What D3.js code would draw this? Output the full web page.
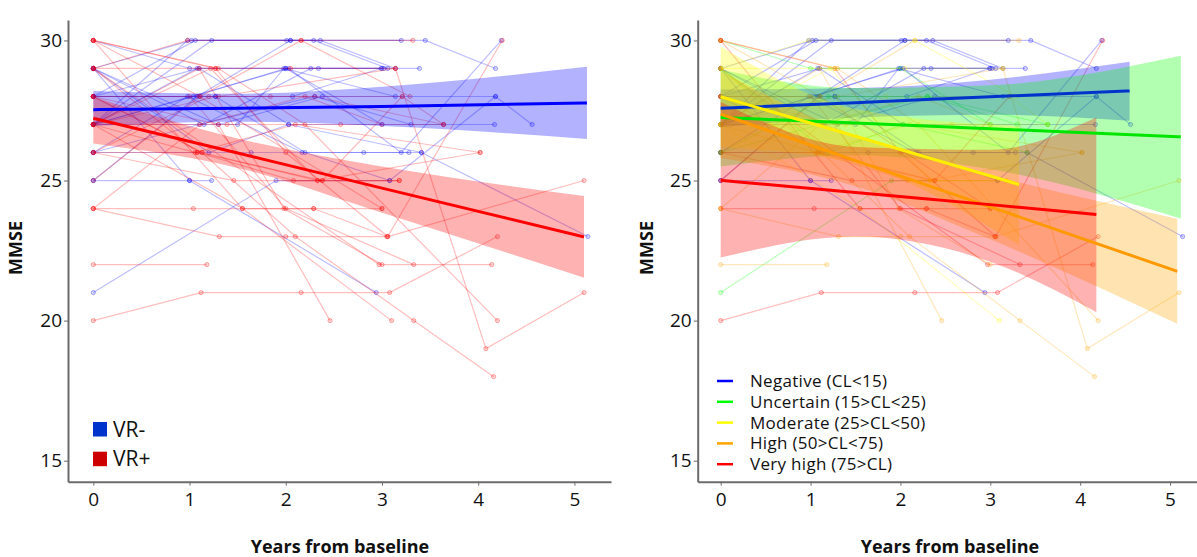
<!DOCTYPE html>
<html>
<head>
<meta charset="utf-8">
<script src="https://cdn.jsdelivr.net/npm/d3@7"></script>
<style>
  html, body { margin: 0; padding: 0; background: #fff; }
  svg { display: block; font-family: "Open Sans", "Noto Sans", sans-serif; }
</style>
</head>
<body>
<svg id="chart" width="1197" height="557"></svg>
<script>
// ---- Individual MMSE trajectories (years from baseline, score) ----
// group: 0 = VR-, 1 = VR+ ; category index into amyloidCategories
const subjectGroup = [
  0,0,0,0,0,0,0,0,0,0,0,0,0,0,0,0,0,0,0,0,0,0,
  1,1,1,1,1,1,1,1,1,1,1,1,1,1,1,1,1,1,1,1,1,1,1,1,1,1,1,1
];
const subjectCategory = [
  0,0,0,0,0,0,0,0,0,0,1,0,0,0,0,0,0,1,1,1,0,0,
  3,4,2,2,3,3,3,3,4,4,3,3,4,4,4,3,2,3,3,4,2,3,4,2,1,4,3,3
];
const subjectYears = [
  [0,1.02,2.01,3.2], [0,1.06,2.05,3.45,4.18], [0,1.23,2.29,3.06], [0,1.15,2.26,3.39],
  [0,1.08,2.34,3.02], [0,1.27,2.07,2.99], [0,1.3,2.38,4.18,4.56], [0,1.5,1.98,3.14],
  [0,1.64,2.81,3.41,5.14], [0,1.0,2.94], [0,1.9,3.08], [0,0.98,2.17,3.28],
  [0,1.27,2.2,3.08,4.18], [0,1.04,2.0,3.0], [0,1.1,2.03,4.17], [0,1.08,2.05],
  [0,0.98,2.36,3.14], [0,1.2,2.03,3.41], [0,1.0,2.0,3.0], [0,1.1,2.3,3.3],
  [0,1.0,1.23], [0,2.03,3.2,4.24],
  [0,1.11,2.16,3.32], [0,1.27,2.0,3.06,4.25], [0,1.27,2.05,3.14], [0,1.11,1.84,3.21,3.64],
  [0,1.39,2.57,3.64], [0,1.08,2.08,3.18], [0,1.13,2.33,4.02], [0,1.3,3.14,4.08,5.1],
  [0,1.08,2.38,3.21], [0,1.04,2.29,3.0], [0,1.31,2.0,3.06,5.1], [0,1.18],
  [0,1.12,2.16,3.08,4.2], [0,1.46,2.38], [0,2.97,4.14], [0,1.3,2.46],
  [0,1.55,3.1], [0,1.13,2.1,3.33,4.16], [0,1.3,2.2,4.2], [0,1.55,2.29,3.05],
  [0,0.98,2.16,3.29], [0,1.1,1.98,3.0], [0,1.0,2.0,3.33], [0,1.22,2.33,3.18],
  [0,1.2,2.3,3.64], [0,1.1,3.0], [0,1.06,2.1,4.02], [0,1.11,2.2,3.0]
];
const subjectScores = [
  [29,30,30,30], [28,30,30,30,29], [27,30,30,29], [29,27,29,29],
  [27,29,29,29], [28,28,28,29], [29,27,28,28,27], [27,27,29,28],
  [26,26,26,26,23], [29,25,21], [21,25,25], [26,28,26,26],
  [28,28,26,25,28], [27,28,29,29], [28,29,27,27], [25,28,30],
  [27,30,30,29], [29,26,27,26], [30,29,29,27], [26,27,28,27],
  [25,25,25], [27,29,26,30],
  [30,28,30,30], [30,29,26,23,30], [29,29,29,29], [28,28,28,28,27],
  [27,27,27,27], [29,26,25,25], [28,26,25,26], [27,28,29,19,21],
  [26,26,25,28], [24,24,24,24], [24,23,23,23,25], [22,22],
  [20,21,21,21,23], [26,25,25], [29,22,22], [28,27,20],
  [27,24,20], [28,26,23,20,18], [30,29,27,20], [30,24,24,23],
  [29,30,30,28], [27,29,24,22], [28,28,24,22], [27,29,25,25],
  [26,28,28,27], [25,28,24], [27,26,27,26], [24,27,28,27]
];

// ---- Left panel: visual read groups ----
const vrGroups = ["VR-", "VR+"];
const vrLineColors = ["#0000ff", "#ff0000"];
const vrLegendColors = ["#0033cc", "#cc0000"];
const vrFitYears = [[0, 1.5, 3, 5.13], [0, 1.5, 3, 5.1]];
const vrFit   = [[27.53, 27.58, 27.64, 27.77], [27.22, 25.98, 24.73, 22.99]];
const vrUpper = [[28.2, 28.1, 28.35, 29.06], [27.99, 26.5, 25.5, 24.45]];
const vrLower = [[26.95, 27.1, 26.95, 26.48], [26.32, 25.45, 23.85, 21.53]];

// ---- Right panel: amyloid Centiloid categories ----
const amyloidCategories = ["Negative (CL<15)", "Uncertain (15>CL<25)", "Moderate (25>CL<50)", "High (50>CL<75)", "Very high (75>CL)"];
const amyloidColors = ["#0000ff", "#00ff00", "#ffff00", "#ffa500", "#ff0000"];
const amyloidFitColors = ["#0033cc", "#00e600", "#ffee00", "#ff9900", "#ff0000"];
const clFitYears = [[0, 1.5, 3, 4.55], [0, 1.5, 3, 5.12], [0, 1.5, 3.32], [0, 1.5, 3, 5.08], [0, 1.5, 3, 4.18]];
const clFit   = [[27.58, 27.78, 27.99, 28.2], [27.25, 27.05, 26.85, 26.56], [27.99, 26.58, 24.86], [27.37, 25.71, 24.06, 21.76], [25.01, 24.57, 24.14, 23.79]];
const clUpper = [[28.25, 28.3, 28.6, 29.24], [28.95, 28.3, 28.4, 29.45], [29.78, 27.55, 26.94], [28.9, 26.6, 25.2, 23.64], [27.8, 26.2, 26.1, 27.25]];
const clLower = [[26.9, 27.25, 27.35, 27.13], [25.5, 25.9, 25.4, 23.64], [26.2, 25.6, 22.69], [25.8, 24.8, 22.9, 19.89], [22.25, 23.0, 22.1, 20.3]];

// ---- Axis ticks ----
const yearTicks = [0, 1, 2, 3, 4, 5];
const mmseTicks = [15, 20, 25, 30];

const svg = d3.select("#chart");

function drawPanel(opts) {
  const g = svg.append("g");
  const x = d3.scaleLinear().domain(opts.xDomain).range(opts.xRange);
  const y = d3.scaleLinear().domain([14.25, 30.73]).range([481.7, 20]);

  // spaghetti trajectories
  const line = d3.line().x(d => x(d[0])).y(d => y(d[1]));
  subjectYears.forEach((yrs, i) => {
    const pts = yrs.map((t, k) => [t, subjectScores[i][k]]);
    const col = opts.colorOf(i);
    g.append("path").attr("d", line(pts))
      .attr("fill", "none").attr("stroke", col)
      .attr("stroke-opacity", 0.26).attr("stroke-width", 1.2);
    g.selectAll(null).data(pts).enter().append("circle")
      .attr("cx", d => x(d[0])).attr("cy", d => y(d[1])).attr("r", 2.1)
      .attr("fill", col).attr("fill-opacity", 0.15)
      .attr("stroke", col).attr("stroke-opacity", 0.32).attr("stroke-width", 1);
  });

  // confidence bands
  opts.fitYears.forEach((yrs, j) => {
    const rows = yrs.map((t, k) => ({ t, lo: opts.lower[j][k], hi: opts.upper[j][k] }));
    const area = d3.area().x(d => x(d.t)).y0(d => y(d.lo)).y1(d => y(d.hi))
      .curve(d3.curveMonotoneX);
    g.append("path").attr("d", area(rows))
      .attr("fill", opts.bandColors[j]).attr("fill-opacity", 0.3);
  });

  // fitted lines
  opts.fitYears.forEach((yrs, j) => {
    const rows = yrs.map((t, k) => [t, opts.fit[j][k]]);
    g.append("path").attr("d", d3.line().x(d => x(d[0])).y(d => y(d[1])).curve(d3.curveMonotoneX)(rows))
      .attr("fill", "none").attr("stroke", opts.fitColors[j]).attr("stroke-width", 3);
  });

  // axes
  const xAxis = d3.axisBottom(x).tickValues(yearTicks).tickFormat(d3.format("d"))
    .tickSizeInner(4).tickSizeOuter(0).tickPadding(7);
  const yAxis = d3.axisLeft(y).tickValues(mmseTicks).tickFormat(d3.format("d"))
    .tickSizeInner(4).tickSizeOuter(0).tickPadding(2);
  const gx = g.append("g").attr("transform", "translate(0,481.7)").call(xAxis);
  const gy = g.append("g").attr("transform", `translate(${opts.xRange[0]},0)`).call(yAxis);
  [gx, gy].forEach(a => {
    a.select(".domain").attr("stroke", "#6b6b6b").attr("stroke-width", 2);
    a.selectAll(".tick line").attr("stroke", "#6b6b6b").attr("stroke-width", 1);
    a.selectAll(".tick text").attr("fill", "#111").style("font-size", "19px")
      .style("font-family", "'Open Sans', sans-serif");
  });

  // axis titles
  g.append("text").attr("x", opts.xTitleX).attr("y", 553)
    .attr("text-anchor", "middle").style("font-weight", "700").style("font-size", "18px")
    .attr("fill", "#111").text("Years from baseline");
  g.append("text").attr("transform", `translate(${opts.yTitleX},248) rotate(-90)`)
    .attr("text-anchor", "middle").attr("dy", "0.35em")
    .style("font-weight", "700").style("font-size", "18px").attr("fill", "#111").text("MMSE");
  return g;
}

// Left panel: VR- / VR+
const left = drawPanel({
  xDomain: [-0.263, 5.38], xRange: [68, 611],
  colorOf: i => vrLineColors[subjectGroup[i]],
  fitYears: vrFitYears, fit: vrFit, upper: vrUpper, lower: vrLower,
  bandColors: vrLineColors, fitColors: vrLineColors,
  xTitleX: 340, yTitleX: 16
});

// Right panel: Centiloid categories
const right = drawPanel({
  xDomain: [-0.256, 5.30], xRange: [697.7, 1197],
  colorOf: i => amyloidColors[subjectCategory[i]],
  fitYears: clFitYears, fit: clFit, upper: clUpper, lower: clLower,
  bandColors: amyloidColors, fitColors: amyloidFitColors,
  xTitleX: 950, yTitleX: 647
});

// Left legend
const lg = svg.append("g");
vrGroups.forEach((name, i) => {
  const yy = 422 + i * 29.7;
  lg.append("rect").attr("x", 93).attr("y", yy).attr("width", 14).attr("height", 14.5)
    .attr("fill", vrLegendColors[i]);
  lg.append("text").attr("x", 113).attr("y", yy + 7.3).attr("dy", "0.35em")
    .style("font-size", "21px").attr("fill", "#111").text(name);
});

// Right legend
const rg = svg.append("g");
amyloidCategories.forEach((name, i) => {
  const yy = 381 + i * 20.8;
  rg.append("line").attr("x1", 717).attr("x2", 733).attr("y1", yy).attr("y2", yy)
    .attr("stroke", amyloidColors[i]).attr("stroke-width", 2.5);
  rg.append("text").attr("x", 750).attr("y", yy).attr("dy", "0.35em")
    .style("font-size", "17px").style("letter-spacing", "0.3px")
    .attr("fill", "#111").text(name);
});
</script>
</body>
</html>
